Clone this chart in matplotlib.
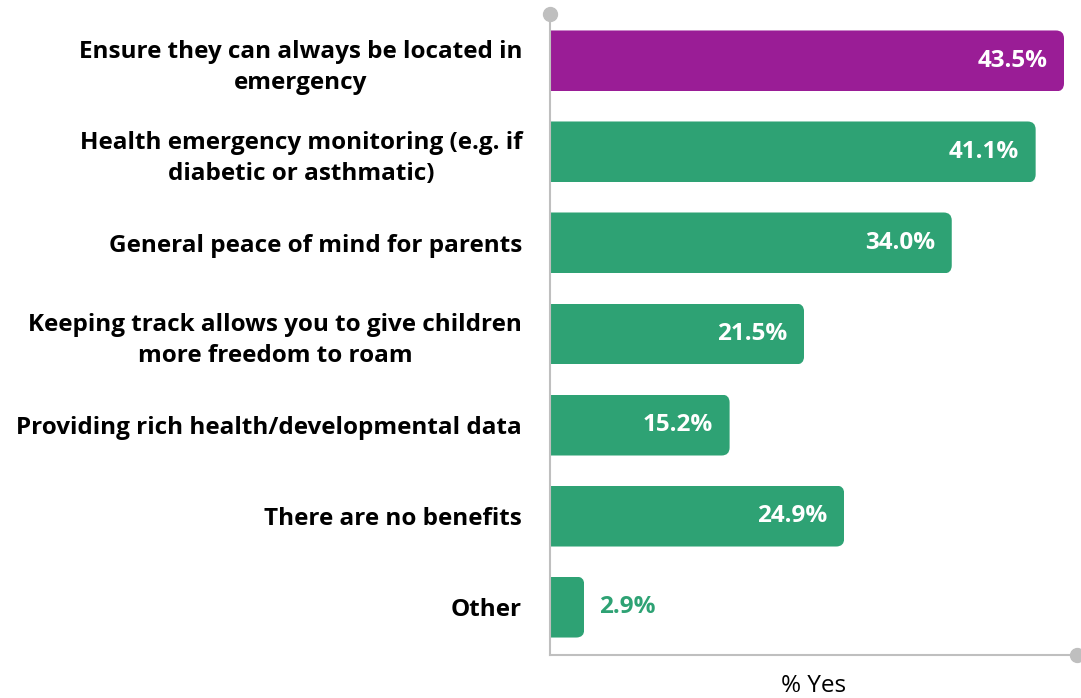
import matplotlib
matplotlib.use("Agg")
import matplotlib.pyplot as plt
from matplotlib.patches import FancyBboxPatch

categories = [
    "Ensure they can always be located in\nemergency",
    "Health emergency monitoring (e.g. if\ndiabetic or asthmatic)",
    "General peace of mind for parents",
    "Keeping track allows you to give children\nmore freedom to roam",
    "Providing rich health/developmental data",
    "There are no benefits",
    "Other",
]
values = [43.5, 41.1, 34.0, 21.5, 15.2, 24.9, 2.9]
value_labels = ["43.5%", "41.1%", "34.0%", "21.5%", "15.2%", "24.9%", "2.9%"]
highlight = [True, False, False, False, False, False, False]
xlabel = "% Yes"

PURPLE = "#9A1D96"
GREEN = "#2EA274"
GREY = "#BFBFBF"

plt.rcParams['font.family'] = ['Open Sans', 'DejaVu Sans']

fig = plt.figure(figsize=(10.81, 6.98), dpi=100)
ax = fig.add_axes([550/1081, 1-655/698, 527/1081, (655-14)/698])

xmax = 44.6
ypos = list(range(len(categories)))
colors = [PURPLE if h else GREEN for h in highlight]
bars = ax.barh(ypos, values, height=0.67, color=colors, linewidth=0, zorder=2)
ax.set_xlim(0, xmax)
ax.set_ylim(6.527, -0.516)

# rounded right corners via clip path
r = 0.68
aspect = (1/91) / (1/11.82)
for b in bars:
    x0, y0 = b.get_x(), b.get_y()
    w, h = b.get_width(), b.get_height()
    clip = FancyBboxPatch((x0 - 3, y0), w + 3, h,
                          boxstyle=f"round,pad=0,rounding_size={r}",
                          mutation_aspect=aspect, transform=ax.transData)
    b.set_clip_path(clip)

for yp, v, lab, c in zip(ypos, values, value_labels, colors):
    if v > 5:
        ax.annotate(lab, (v, yp), xytext=(-12, 0), textcoords="offset points",
                    ha="right", va="center", color="white", fontsize=17.5,
                    fontweight="bold", zorder=3)
    else:
        ax.annotate(lab, (v, yp), xytext=(11, 0), textcoords="offset points",
                    ha="left", va="center", color=c, fontsize=17.5,
                    fontweight="bold", zorder=3)

ax.set_yticks(ypos)
ax.set_yticklabels(categories, fontsize=17.5, fontweight="bold",
                   multialignment="center", linespacing=1.4)
ax.tick_params(axis="y", length=0, pad=20)
ax.set_xticks([])
ax.set_xlabel(xlabel, fontsize=17.5, labelpad=14)

for s in ["top", "right"]:
    ax.spines[s].set_visible(False)
for s in ["left", "bottom"]:
    ax.spines[s].set_color(GREY)
    ax.spines[s].set_linewidth(1.5)
    ax.spines[s].set_zorder(4)

ax.plot([0], [-0.516], "o", color=GREY, markersize=10, clip_on=False, zorder=5)
ax.plot([xmax], [6.527], "o", color=GREY, markersize=10, clip_on=False, zorder=5)

fig.savefig("out.png", dpi=100)
